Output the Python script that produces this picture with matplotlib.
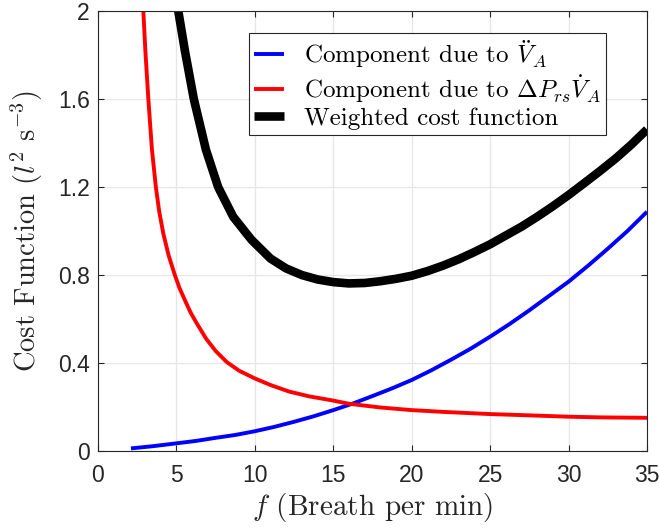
import matplotlib
matplotlib.use('Agg')
import matplotlib.pyplot as plt

plt.rcParams['mathtext.fontset'] = 'cm'
plt.rcParams['font.family'] = 'Liberation Sans'

# values
f_acc = [2.1, 3.5, 5, 6.25, 7.5, 8.75, 10, 11.25, 12.5, 13.75, 15, 16.25, 17.5, 18.75, 20,
         21.25, 22.5, 23.75, 25, 26.25, 27.5, 28.75, 30, 31.25, 32.5, 33.75, 35]
cost_acc = [0.012, 0.022, 0.035, 0.046, 0.06, 0.073, 0.09, 0.11, 0.133, 0.158, 0.186, 0.216,
            0.25, 0.285, 0.323, 0.367, 0.415, 0.465, 0.52, 0.578, 0.64, 0.705, 0.77, 0.843,
            0.92, 1.0, 1.088]

f_pres = [2.89, 3.02, 3.21, 3.44, 3.69, 3.9, 4.16, 4.5, 4.9, 5.2, 5.54, 5.9, 6.3, 6.9, 7.5,
          8.2, 9.0, 10, 11, 12.2, 13.5, 14.8, 16, 18, 20, 22, 25, 28, 30, 32, 35]
cost_pres = [2.0, 1.82, 1.6, 1.37, 1.2, 1.09, 0.99, 0.89, 0.80, 0.74, 0.686, 0.63, 0.58,
             0.51, 0.455, 0.405, 0.365, 0.33, 0.30, 0.27, 0.248, 0.232, 0.215, 0.198, 0.186,
             0.178, 0.168, 0.161, 0.156, 0.153, 0.151]

f_tot = [5.12, 5.54, 6.11, 6.88, 7.66, 8.62, 9.79, 11, 12, 13, 14, 15, 16, 17, 18, 19, 20,
         21, 22, 23, 24, 25, 26, 27, 28, 29, 30, 31, 32, 33, 34, 35]
cost_tot = [2.0, 1.82, 1.6, 1.37, 1.2, 1.065, 0.96, 0.875, 0.83, 0.80, 0.78, 0.768, 0.762,
            0.764, 0.772, 0.783, 0.797, 0.818, 0.843, 0.872, 0.905, 0.94, 0.98, 1.02, 1.065,
            1.113, 1.164, 1.218, 1.273, 1.33, 1.393, 1.462]

xticks = [0, 5, 10, 15, 20, 25, 30, 35]
yticks = [0, 0.4, 0.8, 1.2, 1.6, 2]
ytick_labels = ['0', '0.4', '0.8', '1.2', '1.6', '2']

fig = plt.figure(figsize=(6.59, 5.30), dpi=100)
ax = fig.add_axes([0.1487, 0.149, 0.8331, 0.830])

ax.plot(f_acc, cost_acc, color='#0000ff', lw=2.8, solid_capstyle='butt',
        label=r'Component due to $\ddot{V}_A$')
ax.plot(f_pres, cost_pres, color='#ff0000', lw=2.8, solid_capstyle='butt',
        label=r'Component due to $\Delta P_{rs}\dot{V}_A$')
ax.plot(f_tot, cost_tot, color='k', lw=6.2, solid_capstyle='butt',
        label='Weighted cost function')

ax.set_xlim(0, 35)
ax.set_ylim(0, 2)
ax.set_xticks(xticks)
ax.set_yticks(yticks)
ax.set_yticklabels(ytick_labels)
ax.tick_params(direction='in', top=True, right=True, labelsize=16.5, colors='#262626',
               length=4, width=0.8)
ax.tick_params(axis='x', pad=9)
ax.tick_params(axis='y', pad=6)
ax.grid(True, color='#e6e6e6', lw=0.9)
ax.set_axisbelow(True)
for s in ax.spines.values():
    s.set_color('#262626')
    s.set_linewidth(0.8)

ax.set_xlabel(r'$f$ (Breath per min)', fontsize=21, family='cmr10', color='#262626',
              labelpad=3)
ax.set_ylabel(r'Cost Function ($l^2$ $\mathrm{s}^{-3}$)', fontsize=20.5, family='cmr10',
              color='#262626', labelpad=9)

leg = ax.legend(loc='upper right', bbox_to_anchor=(0.9255, 0.95), fancybox=False,
                prop={'family': 'cmr10', 'size': 18},
                edgecolor='#262626', framealpha=1, handlelength=1.2, handletextpad=0.8,
                borderpad=0.2, labelspacing=0.1, borderaxespad=0)
leg.get_frame().set_linewidth(0.8)

fig.savefig('out.png', dpi=100)
